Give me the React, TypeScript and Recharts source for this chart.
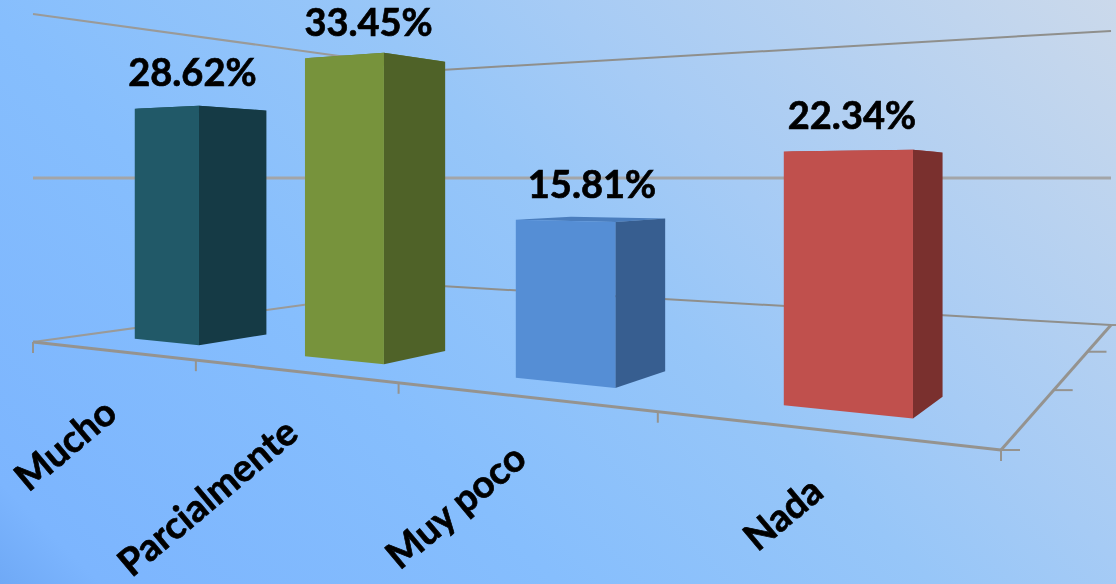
import { BarChart, Bar, XAxis, YAxis, LabelList, Customized } from "recharts";

const WIDTH = 1116;
const HEIGHT = 584;
const AXIS_H = 1;
const PLOT_H = HEIGHT - AXIS_H;

const categories = ["Mucho", "Parcialmente", "Muy poco", "Nada"];
const percents = [28.62, 33.45, 15.81, 22.34];
const wallTicks = [0, 20, 40];
const depthTicks = [0, 1 / 3, 2 / 3, 1];
const Y_MAX = 40;

const FRONT_COLORS = ["#215968", "#77933C", "#558ED5", "#C0504D"];
const SIDE_COLORS = ["#153A45", "#4F6228", "#375E90", "#7A302E"];
const TOP_COLORS = ["#1B4A57", "#637B32", "#4A7DBD", "#A84542"];
const LABEL_NUDGE = [10, 10, 15, -3];

const chartData = categories.map((name, i) => ({ name, value: percents[i] }));

// floor homography, unit square -> screen
const G = -0.3931, H = 0.5093;
const floor = (u: number, v: number): [number, number] => {
  const w = G * u + H * v + 1;
  return [(574.5 * u + 632.6 * v + 33) / w, (-68.9 * u + 89.7 * v + 342) / w];
};
const HORIZON = 178;
const EYE_LEVEL = 20; // chart value that sits on the horizon
const project = (u: number, v: number, value = 0): [number, number] => {
  const [x, y] = floor(u, v);
  return [x, HORIZON + (y - HORIZON) * (1 - value / EYE_LEVEL)];
};

const DEPTH_FRONT = 0.097;
const DEPTH_BACK = 0.23;

const pts = (list: [number, number][]) => list.map((p) => p.join(",")).join(" ");

const Bar3D = (props: any) => {
  const { x, width, height, index } = props;
  const u0 = x / WIDTH;
  const u1 = (x + width) / WIDTH;
  const val = (height / PLOT_H) * Y_MAX;
  const fb0 = project(u0, DEPTH_FRONT);
  const fb1 = project(u1, DEPTH_FRONT);
  const bb1 = project(u1, DEPTH_BACK);
  const ft0 = project(u0, DEPTH_FRONT, val);
  const ft1 = project(u1, DEPTH_FRONT, val);
  const bt1 = project(u1, DEPTH_BACK, val);
  const bt0 = project(u0, DEPTH_BACK, val);
  return (
    <g>
      <polygon points={pts([ft0, ft1, bt1, bt0])} fill={TOP_COLORS[index]} />
      <polygon points={pts([ft1, bt1, bb1, fb1])} fill={SIDE_COLORS[index]} />
      <polygon points={pts([ft0, ft1, fb1, fb0])} fill={FRONT_COLORS[index]} />
    </g>
  );
};

const renderValue = (props: any) => {
  const { x, width, height, value, index } = props;
  const u = (x + width / 2) / WIDTH;
  const val = (height / PLOT_H) * Y_MAX;
  const [px, py] = project(u, DEPTH_FRONT + 0.03, val);
  return (
    <text
      x={px + LABEL_NUDGE[index]}
      y={py - 22}
      textAnchor="middle"
      fontFamily="Lato"
      fontWeight={700}
      fontSize={38}
      fill="#000"
      stroke="#000"
      strokeWidth={0.7}
    >
      {value.toFixed(2)}%
    </text>
  );
};

const renderTick = (props: any) => {
  const { x, payload } = props;
  const [px, py] = project(x / WIDTH, 0);
  const tx = px + 9;
  const ty = py + 66;
  return (
    <text
      x={tx}
      y={ty}
      textAnchor="end"
      fontFamily="Lato"
      fontWeight={700}
      fontSize={38}
      fill="#000"
      stroke="#000"
      strokeWidth={0.7}
      transform={`rotate(-40 ${tx} ${ty})`}
    >
      {payload.value}
    </text>
  );
};

const Walls = () => {
  const line = (a: [number, number], b: [number, number], key: string, color: string, w: number) => (
    <line key={key} x1={a[0]} y1={a[1]} x2={b[0]} y2={b[1]} stroke={color} strokeWidth={w} />
  );
  return (
    <g>
      {wallTicks.map((t) => (
        <g key={t}>
          {line(project(0, 0, t), project(0, 1, t), `l${t}`, t === 20 ? "#A3A5A8" : "#9A9A98", t === 20 ? 3 : 2)}
          {line(project(0, 1, t), project(1, 1, t), `r${t}`, t === 20 ? "#A3A5A8" : "#8F8F8C", t === 20 ? 3 : 2)}
        </g>
      ))}
      {line(project(0, 0), project(1, 0), "front", "#95938F", 3)}
      {line(project(1, 0), project(1, 1), "side", "#95938F", 3)}
      {categories.concat("").map((_, i) => {
        const p = project(i / categories.length, 0);
        return line(p, [p[0], p[1] + 11], `xt${i}`, "#95938F", 2);
      })}
      {depthTicks.map((d) => {
        const p = project(1, d);
        return line(p, [p[0] + 19, p[1]], `zt${d}`, "#95938F", 2);
      })}
    </g>
  );
};

export default function App() {
  return (
    <div
      style={{
        position: "absolute",
        left: 0,
        top: 0,
        width: WIDTH,
        height: HEIGHT,
        overflow: "hidden",
        background: "linear-gradient(45deg, #6FA9F6 0%, #7CB5FE 6%, #86BEFD 33%, #97C6F8 55%, #A6CBF5 67%, #CBD9EB 100%)",
      }}
    >
      <div style={{ filter: "blur(0.5px)" }}>
        <BarChart width={WIDTH} height={HEIGHT} data={chartData} margin={{ top: 0, right: 0, bottom: 0, left: 0 }} barCategoryGap="30%">
          <XAxis dataKey="name" height={AXIS_H} axisLine={false} tickLine={false} interval={0} tick={renderTick} />
          <YAxis hide domain={[0, Y_MAX]} />
          <Customized component={Walls} />
          <Bar dataKey="value" shape={Bar3D} isAnimationActive={false}>
            <LabelList dataKey="value" content={renderValue} />
          </Bar>
        </BarChart>
      </div>
    </div>
  );
}
